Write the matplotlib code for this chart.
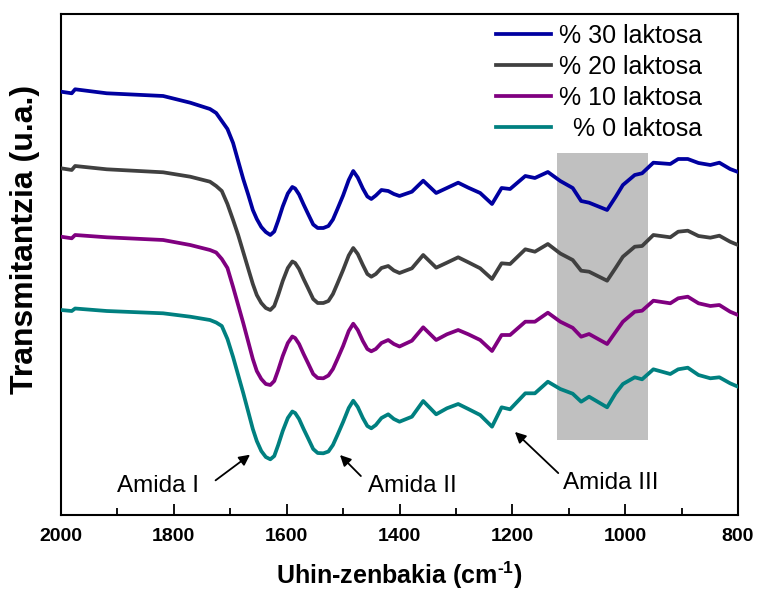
import matplotlib
matplotlib.use("Agg")
import matplotlib.pyplot as plt
from matplotlib.ticker import MultipleLocator

plt.rcParams['font.family'] = ['Liberation Sans', 'DejaVu Sans']
plt.rcParams['mathtext.fontset'] = 'custom'
plt.rcParams['mathtext.rm'] = 'Liberation Sans'
plt.rcParams['mathtext.bf'] = 'Liberation Sans:bold'

# uhin-zenbakiak (cm-1)
wavenumber = [2000, 1981, 1975, 1919, 1819, 1771,
              1736, 1725, 1715, 1705, 1695, 1686, 1677, 1668, 1660, 1653,
              1645, 1637, 1629, 1622, 1615, 1607, 1598, 1590, 1585, 1578,
              1570, 1562, 1553, 1545, 1535, 1526, 1518, 1510, 1500, 1490,
              1482, 1474, 1465, 1457, 1450, 1442, 1432, 1420, 1410, 1400,
              1378, 1358, 1335, 1316, 1296, 1278, 1257, 1236, 1219, 1204,
              1177, 1160, 1137, 1115, 1093, 1078, 1064, 1032, 1017, 1004,
              983, 970, 950, 920, 906, 889, 870, 849, 833, 814, 800]

# transmitantzia, u.a. (kurbak desplazatuta)
lak30 = [423.3, 421.7, 425.7, 421.7, 419.0, 412.3,
         406.0, 402.0, 394.0, 386.0, 372.0, 354.0, 336.0, 320.0, 305.0, 296.0,
         288.0, 283.0, 280.0, 283.5, 294.5, 308.5, 321.5, 328.0, 326.5, 320.5,
         310.5, 301.0, 290.5, 287.0, 287.0, 289.0, 295.5, 306.0, 319.5, 335.0,
         344.0, 337.5, 326.5, 318.5, 316.0, 319.5, 325.0, 324.0, 321.0, 319.0,
         323.3, 334.3, 322.0, 327.0, 332.3, 327.3, 322.0, 311.0, 327.0, 326.0,
         339.0, 337.0, 343.0, 334.0, 327.0, 314.0, 312.3, 305.0, 318.0, 330.0,
         340.0, 341.7, 352.3, 351.0, 356.0, 356.0, 352.0, 350.0, 352.3, 346.0, 343.0]
lak20 = [346.7, 345.0, 349.0, 345.7, 342.7, 338.3,
         333.3, 329.0, 324.0, 311.0, 295.0, 280.0, 263.0, 246.0, 231.0, 220.0,
         212.0, 207.0, 205.0, 209.0, 220.0, 234.0, 247.0, 253.5, 252.0, 246.0,
         236.0, 226.7, 216.0, 212.0, 212.0, 214.0, 221.0, 231.5, 245.0, 259.5,
         267.0, 261.0, 250.0, 241.0, 238.3, 241.0, 247.0, 249.0, 244.5, 242.0,
         246.7, 260.0, 247.3, 252.3, 257.7, 252.7, 246.7, 236.0, 251.7, 251.0,
         265.7, 263.3, 271.0, 261.5, 255.0, 244.3, 243.3, 234.3, 247.0, 258.3,
         268.3, 269.0, 280.0, 277.7, 283.3, 284.3, 279.0, 277.3, 279.3, 273.3, 270.0]
lak10 = [278.3, 276.7, 280.0, 277.7, 275.0, 270.0,
         265.0, 262.5, 256.0, 247.0, 228.0, 210.0, 192.0, 173.0, 156.0, 144.0,
         136.0, 131.0, 130.0, 134.0, 145.0, 159.0, 172.0, 178.5, 177.0, 171.0,
         161.0, 151.7, 141.0, 137.0, 136.7, 139.5, 146.0, 156.0, 169.0, 184.0,
         191.3, 185.0, 174.0, 166.0, 163.7, 166.0, 172.0, 175.0, 171.0, 168.5,
         174.3, 187.7, 175.0, 180.7, 185.0, 180.7, 175.0, 164.0, 180.0, 180.0,
         193.3, 193.3, 202.3, 193.3, 187.2, 178.3, 181.0, 171.0, 183.0, 193.3,
         203.3, 204.3, 214.3, 211.7, 216.7, 218.3, 211.7, 209.0, 210.0, 203.3, 200.0]
lak0 = [205.0, 204.0, 206.5, 204.0, 201.7, 198.3,
        195.0, 192.5, 189.0, 176.0, 158.0, 140.0, 122.0, 103.0, 86.0, 74.0,
        64.0, 58.0, 55.7, 59.0, 70.0, 84.0, 97.0, 103.5, 102.0, 96.0,
        86.0, 76.7, 66.0, 62.0, 61.7, 63.5, 70.0, 80.0, 93.0, 107.0,
        114.3, 108.0, 97.0, 89.0, 86.7, 90.0, 97.0, 100.7, 96.0, 93.3,
        98.3, 114.0, 100.7, 106.7, 111.0, 106.0, 100.0, 88.3, 107.7, 105.7,
        121.7, 121.7, 133.3, 126.0, 121.3, 113.3, 118.3, 107.7, 121.7, 131.0,
        137.7, 135.7, 145.7, 141.0, 145.7, 147.3, 140.0, 136.7, 137.7, 131.7, 128.3]

series = [lak30, lak20, lak10, lak0]
labels = ['% 30 laktosa', '% 20 laktosa', '% 10 laktosa', '  % 0 laktosa']
colors = ['#0000a0', '#404040', '#800080', '#008080']

fig = plt.figure(figsize=(7.58, 5.90), dpi=100)
ax = fig.add_axes([0.0805, 0.1271, 0.8931, 0.8492])

# nabarmendutako eremua (laktosaren bandak)
ax.fill_between([1121, 960], 75, 362, color='#c0c0c0', lw=0, zorder=1)

for y, lab, c in zip(series, labels, colors):
    ax.plot(wavenumber, y, color=c, lw=2.7, label=lab, zorder=3,
            solid_joinstyle='round')

ax.set_xlim(2000, 800)
ax.set_ylim(0, 501)
ax.xaxis.set_major_locator(MultipleLocator(200))
ax.xaxis.set_minor_locator(MultipleLocator(100))
ax.tick_params(axis='x', which='major', direction='in', length=8, width=1.3, pad=9)
ax.tick_params(axis='x', which='minor', direction='in', length=5, width=1.3)
ax.set_yticks([])
for lbl in ax.get_xticklabels():
    lbl.set_fontweight('bold')
    lbl.set_fontsize(14)
for sp in ax.spines.values():
    sp.set_linewidth(1.5)

ax.set_xlabel('Uhin-zenbakia (cm$\\mathbf{^{\u2010 1}}$)', fontsize=18, fontweight='bold')
ax.xaxis.set_label_coords(0.5, -0.088)
ax.set_ylabel('Transmitantzia (u.a.)', fontsize=23, fontweight='bold')
ax.yaxis.set_label_coords(-0.031, 0.55)

leg = ax.legend(loc='upper right', bbox_to_anchor=(0.95, 0.985), frameon=False,
                fontsize=18, handlelength=2.2, handletextpad=0.3,
                labelspacing=0.28, borderpad=0.1, borderaxespad=0)

arrow = dict(arrowstyle='-|>', color='black', lw=1.3, mutation_scale=16)
ax.text(1901, 23, 'Amida I', fontsize=17.5, ha='left', va='baseline')
ax.annotate('', xy=(1661, 62), xytext=(1730, 33), arrowprops=arrow)
ax.text(1456, 23, 'Amida II', fontsize=17.5, ha='left', va='baseline')
ax.annotate('', xy=(1509, 62), xytext=(1465, 37), arrowprops=arrow)
ax.text(1110, 26, 'Amida III', fontsize=17.5, ha='left', va='baseline')
ax.annotate('', xy=(1199, 85), xytext=(1115, 40), arrowprops=arrow)

fig.savefig('out.png', dpi=100)
